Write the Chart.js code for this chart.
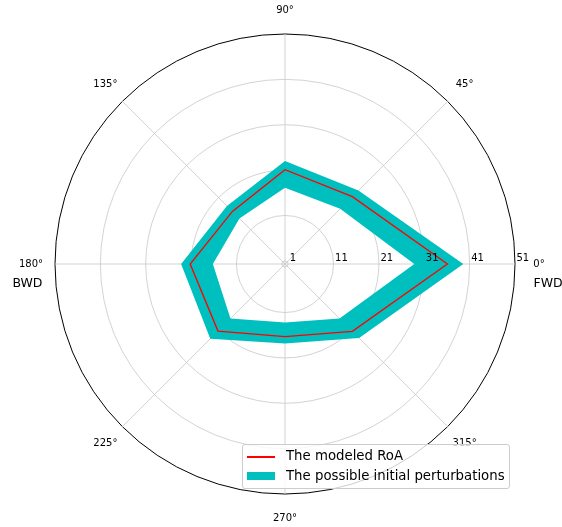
<!DOCTYPE html>
<html>
<head>
<meta charset="utf-8">
<script src="https://cdn.jsdelivr.net/npm/chart.js@4/dist/chart.umd.min.js"></script>
<style>
  body { margin: 0; background: #fff; font-family: "DejaVu Sans", sans-serif; }
  #wrap { position: relative; width: 562px; height: 527px; overflow: hidden; }
  #legend {
    position: absolute; left: 242px; top: 444px; width: 266px; height: 43px;
    background: rgba(255, 255, 255, 0.8); border: 1px solid #cccccc; border-radius: 3px;
    font-size: 13.3px; color: #000;
  }
  #legend .row { position: absolute; left: 0; height: 20px; width: 100%; }
  #legend .swatch { position: absolute; left: 4px; width: 28px; }
  #legend .txt { position: absolute; left: 43px; top: 0; line-height: 20px; white-space: nowrap; }
</style>
</head>
<body>
<div id="wrap">
  <canvas id="chartRoa"></canvas>
  <div id="legend">
    <div class="row" style="top:1px">
      <div class="swatch" style="top:10px;height:1.5px;background:#ff0000"></div>
      <span class="txt">The modeled RoA</span>
    </div>
    <div class="row" style="top:21px">
      <div class="swatch" style="top:6px;height:8px;background:#00bfbf"></div>
      <span class="txt">The possible initial perturbations</span>
    </div>
  </div>
</div>
<script>
// Ángulos (grados) y valores
const angulos = [0, 45, 90, 135, 180, 225, 270, 315];
const etiquetasAngulo = ["0°", "45°", "90°", "135°", "180°", "225°", "270°", "315°"];
const roaModelada = [36.1, 21.3, 21.1, 16.7, 21.2, 21.2, 16.3, 21.3];
const perturbMax = [39.6, 23.2, 23.0, 18.4, 23.2, 23.6, 17.8, 23.4];
const perturbMin = [28.8, 17.5, 17.1, 14.5, 16.2, 17.3, 13.2, 17.3];
const ticksRadio = [1, 11, 21, 31, 41, 51];
const radioMin = 0.3;
const radioMax = 51;

// Chart.js recorre los ángulos en sentido horario; se reordena para ir antihorario
const orden = angulos.map((_, k) => (angulos.length - k) % angulos.length);
const reordenar = (arr) => orden.map((i) => arr[i]);

const FUENTE = '"DejaVu Sans", sans-serif';

// Plugin para etiquetas de ángulo, ticks radiales y FWD/BWD
const etiquetasPolares = {
  id: "etiquetasPolares",
  afterDraw(chart) {
    const scale = chart.scales.r;
    const ctx = chart.ctx;
    ctx.save();
    ctx.fillStyle = "#000";
    ctx.font = "10px " + FUENTE;
    ctx.textAlign = "center";
    ctx.textBaseline = "middle";
    orden.forEach((i, k) => {
      const p = scale.getPointPosition(k, scale.drawingArea + 24);
      ctx.fillText(etiquetasAngulo[i], p.x, p.y);
    });
    ctx.textAlign = "left";
    ticksRadio.forEach((v) => {
      const d = scale.getDistanceFromCenterForValue(v);
      ctx.fillText(String(v), scale.xCenter + d + 1.5, scale.yCenter - 6);
    });
    ctx.font = "12.5px " + FUENTE;
    ctx.fillText("FWD", scale.xCenter + scale.drawingArea + 18.5, scale.yCenter + 19.5);
    ctx.textAlign = "right";
    ctx.fillText("BWD", scale.xCenter - scale.drawingArea - 12.5, scale.yCenter + 19.5);
    ctx.restore();
  },
};

let chartRoa;

document.addEventListener("DOMContentLoaded", () => {
  const ctxRoa = document.getElementById("chartRoa").getContext("2d");
  chartRoa = new Chart(ctxRoa, {
    type: "radar",
    data: {
      labels: reordenar(etiquetasAngulo),
      datasets: [
        {
          label: "inner",
          data: reordenar(perturbMin),
          borderWidth: 0,
          borderColor: "rgba(0,0,0,0)",
          pointRadius: 0,
          fill: false,
          order: 2,
        },
        {
          label: "The possible initial perturbations",
          data: reordenar(perturbMax),
          borderWidth: 0,
          borderColor: "rgba(0,0,0,0)",
          backgroundColor: "#00bfbf",
          pointRadius: 0,
          fill: "-1",
          order: 1,
        },
        {
          label: "The modeled RoA",
          data: reordenar(roaModelada),
          borderColor: "#ff0000",
          borderWidth: 1.3,
          pointRadius: 0,
          fill: false,
          order: 0,
        },
      ],
    },
    options: {
      responsive: true,
      maintainAspectRatio: false,
      animation: false,
      layout: { padding: { left: 55, right: 47, top: 34, bottom: 33 } },
      elements: { line: { tension: 0 } },
      plugins: { legend: { display: false }, tooltip: { enabled: false } },
      scales: {
        r: {
          min: radioMin,
          max: radioMax,
          startAngle: 90,
          afterBuildTicks: (scale) => {
            scale.ticks = [radioMin, ...ticksRadio].map((v) => ({ value: v }));
          },
          ticks: { display: false },
          pointLabels: { display: false },
          grid: {
            circular: true,
            color: (c) => (c.tick && c.tick.value === radioMax ? "#000000" : "#c8c8c8"),
            lineWidth: (c) => (c.tick && c.tick.value === radioMax ? 1 : 0.8),
          },
          angleLines: { color: "#c8c8c8", lineWidth: 0.8 },
        },
      },
    },
    plugins: [etiquetasPolares],
  });
});
</script>
</body>
</html>
